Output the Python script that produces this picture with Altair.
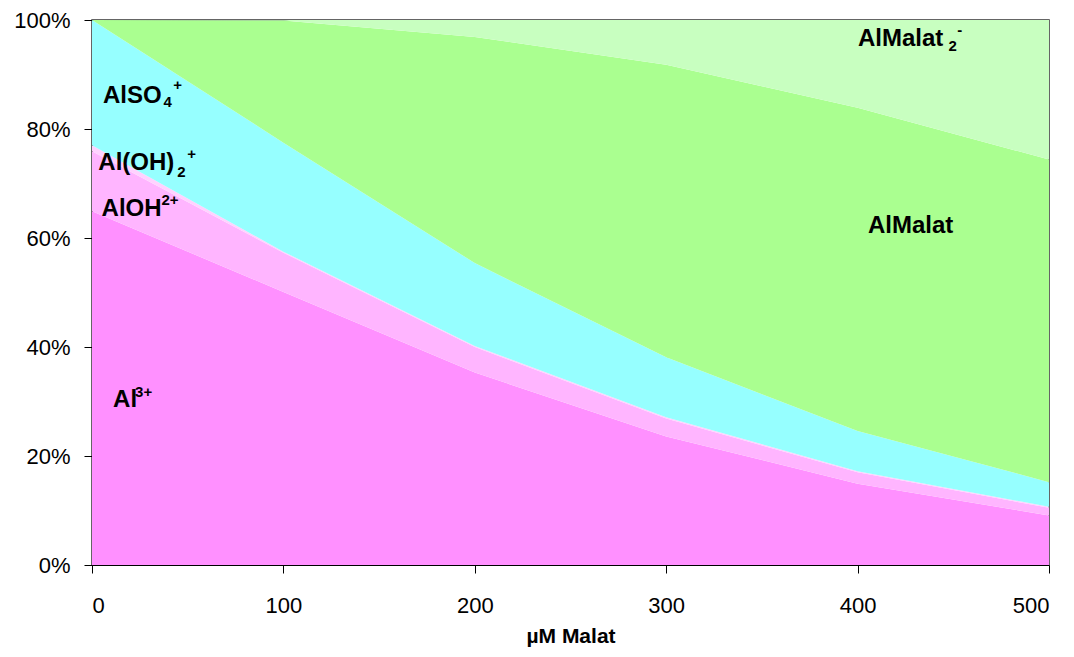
import altair as alt
import pandas as pd

# ---- data (percent of total Al) ----
malat = [0, 100, 200, 300, 400, 500]
species = ["Al3+", "AlOH2+", "Al(OH)2+", "AlSO4+", "AlMalat", "AlMalat2-"]
al3 = [64.9, 50.1, 35.3, 23.6, 14.9, 9.1]
aloh = [11.0, 7.2, 4.7, 3.3, 2.1, 1.4]
aloh2 = [1.1, 0.2, 0.2, 0.2, 0.2, 0.2]
also4 = [23.0, 20.0, 15.2, 11.0, 7.4, 4.5]
almalat = [0.0, 22.4, 41.5, 53.7, 59.3, 59.2]
almalat2 = [0.0, 0.1, 3.1, 8.2, 16.1, 25.6]
colors = ["#FF90FF", "#FFB5FF", "#FFD2FF", "#96FFFF", "#AAFF90", "#C8FFC0"]

series = [al3, aloh, aloh2, also4, almalat, almalat2]
rows = []
for i, (name, vals) in enumerate(zip(species, series)):
    for xv, v in zip(malat, vals):
        rows.append({"malat": xv, "pct": v, "species": name, "idx": i})
df = pd.DataFrame(rows)

# ---- annotation labels (text pieces, position in data units, font size) ----
lab_text = ["AlSO", "4", "+",
            "Al(OH)", "2", "+",
            "AlOH", "2+",
            "Al", "3+",
            "AlMalat",
            "AlMalat", "2", "-"]
lab_x = [5.7, 37.3, 42.5,
         3.3, 44.6, 49.8,
         5.0, 36.3,
         11.0, 22.5,
         405.4,
         400.2, 447.5, 452.0]
lab_y = [86.1, 84.9, 88.1,
         73.7, 72.2, 75.4,
         65.3, 66.9,
         30.2, 31.8,
         62.2,
         96.6, 95.3, 98.1]
lab_fs = [24, 15, 15,
          24, 15, 15,
          24, 15,
          24, 15,
          24,
          24, 15, 15]
labels = pd.DataFrame({"text": lab_text, "x": lab_x, "y": lab_y, "fs": lab_fs})

FONT = "Liberation Sans"

xscale = alt.Scale(domain=[0, 500], nice=False, zero=True)
yscale = alt.Scale(domain=[0, 100], nice=False)

area = alt.Chart(df).mark_area(opacity=1, interpolate="linear").encode(
    x=alt.X("malat:Q", scale=xscale,
            axis=alt.Axis(values=[0, 100, 200, 300, 400, 500], title="µM Malat",
                          titleFont=FONT, titleFontSize=21, titleFontWeight="bold",
                          titleColor="black", titlePadding=9,
                          labelFont=FONT, labelFontSize=22, labelColor="black",
                          labelPadding=22, tickSize=8, tickColor="black",
                          domainColor="black", grid=False)),
    y=alt.Y("pct:Q", stack="zero", scale=yscale,
            axis=alt.Axis(values=[0, 20, 40, 60, 80, 100], title=None,
                          labelExpr="datum.value + '%'",
                          labelFont=FONT, labelFontSize=22, labelColor="black",
                          labelPadding=14, tickSize=8, tickColor="black",
                          domainColor="black", grid=False)),
    color=alt.Color("species:N", scale=alt.Scale(domain=species, range=colors), legend=None),
    order=alt.Order("idx:Q", sort="ascending"),
)

text = alt.Chart(labels).mark_text(
    align="left", baseline="middle", font=FONT, fontWeight="bold", color="black"
).encode(
    x=alt.X("x:Q", scale=xscale),
    y=alt.Y("y:Q", scale=yscale),
    text="text:N",
    size=alt.Size("fs:Q", scale=None, legend=None),
)

chart = (area + text).properties(
    width=957, height=545,
    autosize=alt.AutoSizeParams(type="none"),
    padding={"left": 84, "top": 12, "right": 17, "bottom": 84},
).configure_view(stroke="#333333", strokeWidth=1.5)

chart.save("out.html", embed_options={"renderer": "svg", "actions": False})
